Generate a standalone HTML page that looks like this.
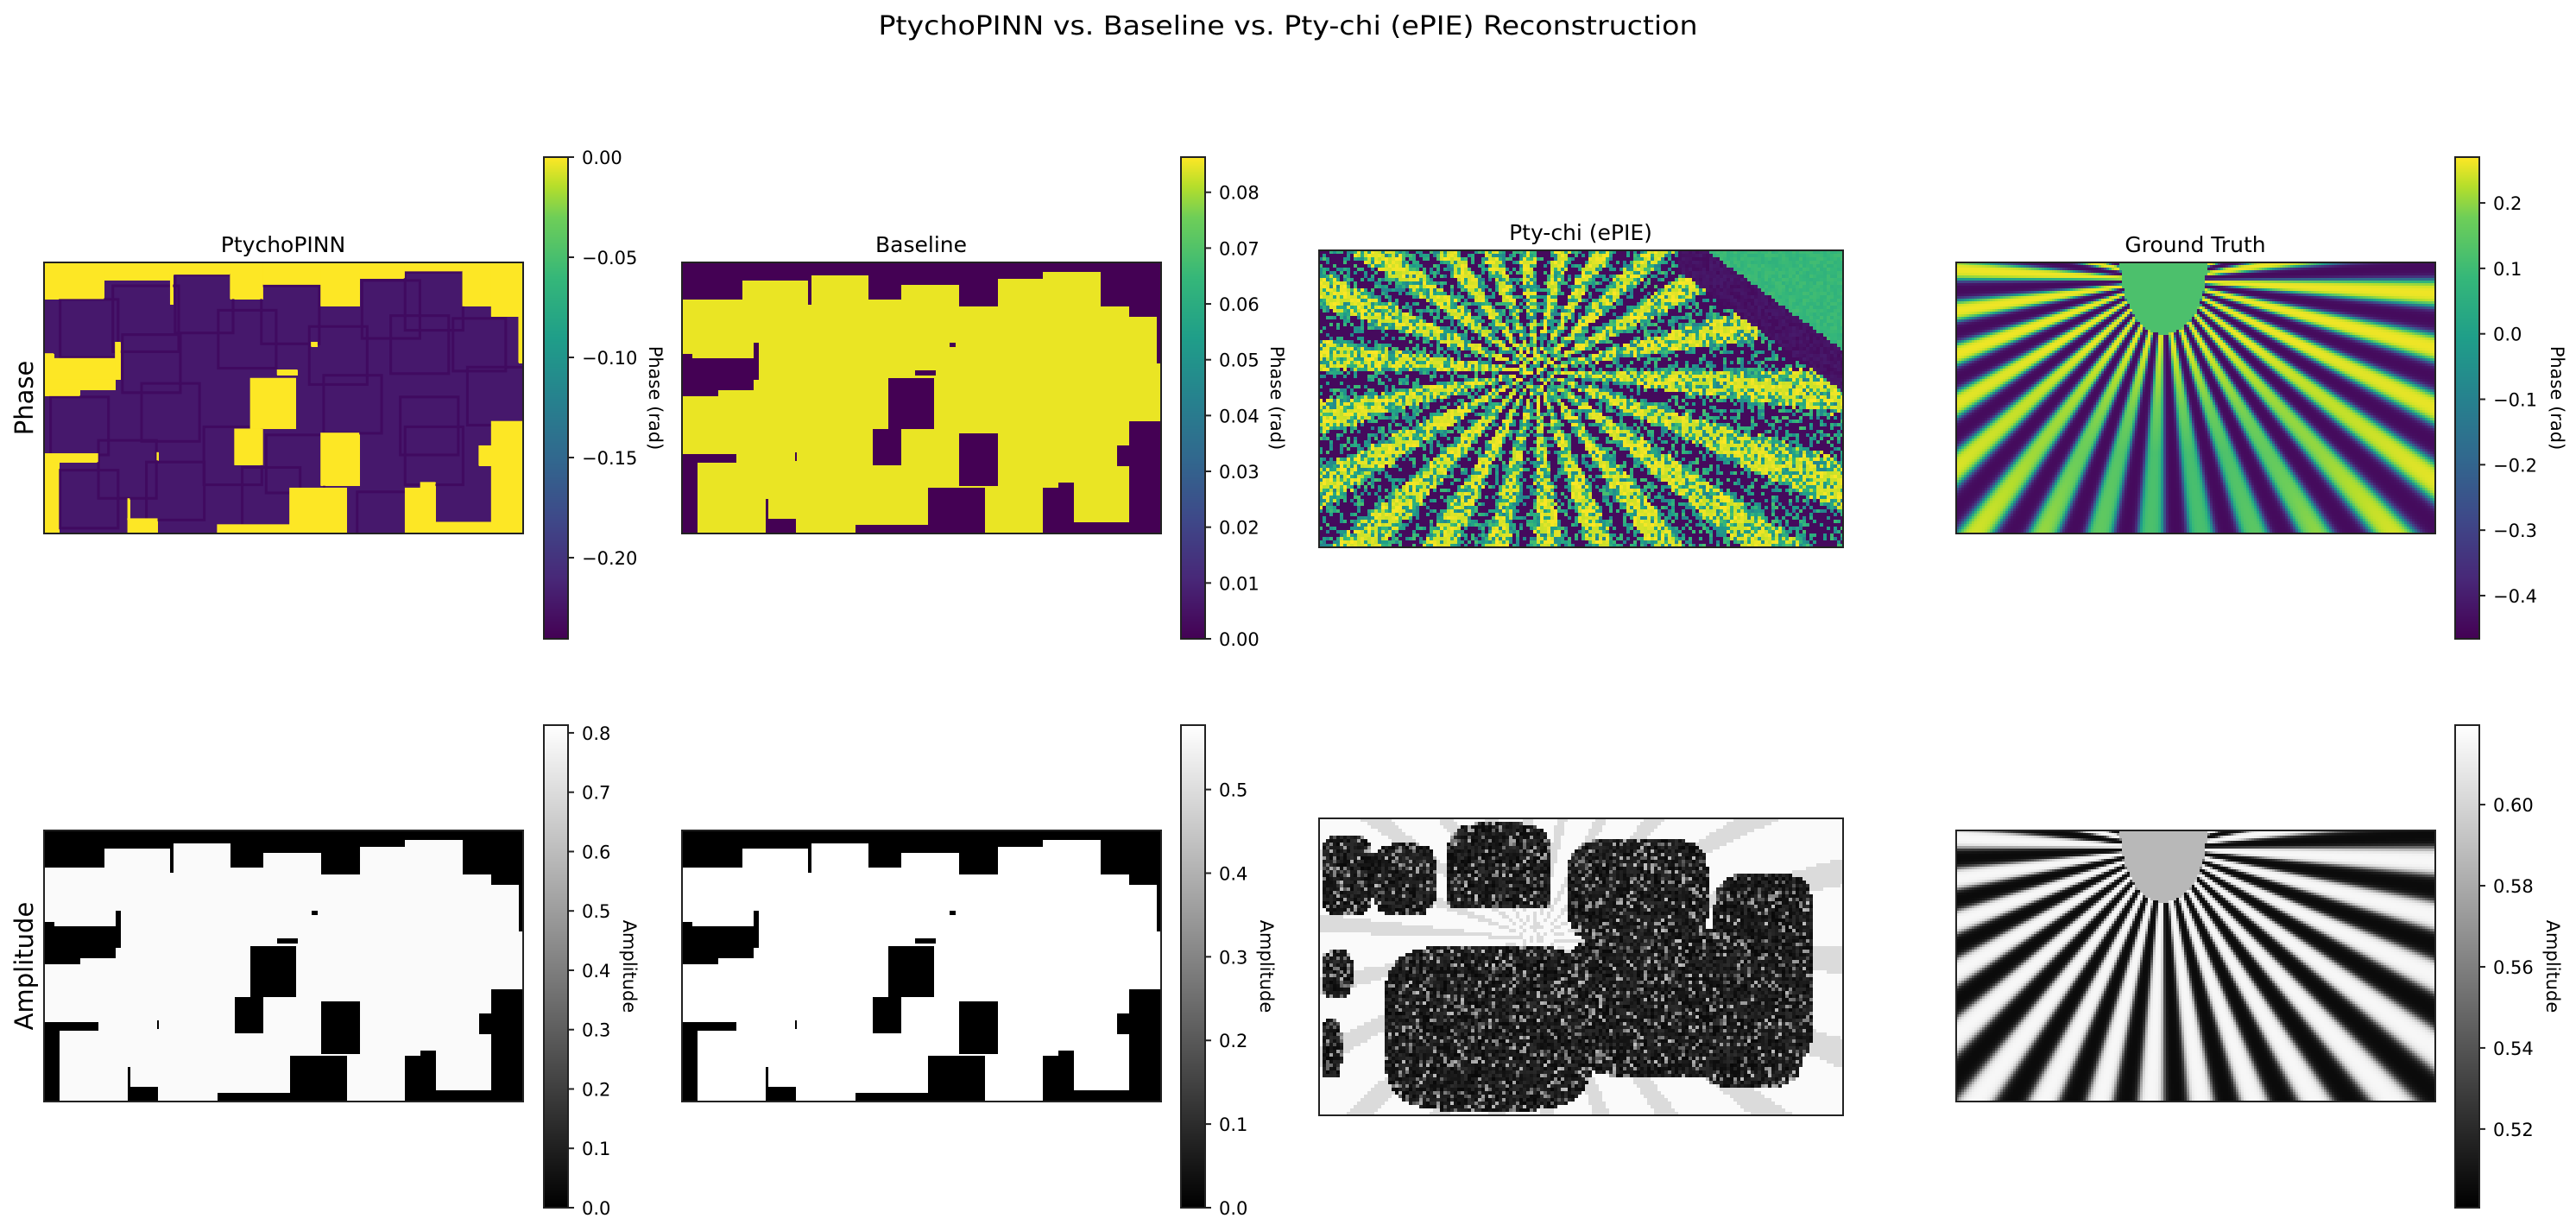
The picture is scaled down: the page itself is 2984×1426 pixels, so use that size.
<!DOCTYPE html>
<html><head><meta charset="utf-8">
<style>
html,body{margin:0;padding:0;background:#fff;}
#root{position:relative;width:2984px;height:1426px;overflow:hidden;background:#fff;}
canvas{position:absolute;image-rendering:pixelated;}
svg{position:absolute;left:0;top:0;}
text{font-family:"DejaVu Sans","Liberation Sans",sans-serif;fill:#000;}
</style></head>
<body>
<div id="root">
<canvas id="c_pinn_ph" style="left:51px;top:304px" width="555" height="314"></canvas>
<canvas id="c_base_ph" style="left:790px;top:304px" width="555" height="314"></canvas>
<canvas id="c_pty_ph" style="left:1528px;top:290px" width="607" height="344"></canvas>
<canvas id="c_gt_ph" style="left:2266px;top:304px" width="555" height="314"></canvas>
<canvas id="c_pinn_am" style="left:51px;top:962px" width="555" height="314"></canvas>
<canvas id="c_base_am" style="left:790px;top:962px" width="555" height="314"></canvas>
<canvas id="c_pty_am" style="left:1528px;top:948px" width="607" height="344"></canvas>
<canvas id="c_gt_am" style="left:2266px;top:962px" width="555" height="314"></canvas>
<canvas id="cb1" style="left:630px;top:182px" width="28" height="558"></canvas>
<canvas id="cb2" style="left:1368px;top:182px" width="28" height="558"></canvas>
<canvas id="cb3" style="left:2844px;top:182px" width="28" height="558"></canvas>
<canvas id="cb4" style="left:630px;top:840px" width="28" height="559"></canvas>
<canvas id="cb5" style="left:1368px;top:840px" width="28" height="559"></canvas>
<canvas id="cb6" style="left:2844px;top:840px" width="28" height="559"></canvas>
<svg id="ov" width="2984" height="1426">
<text x="1492" y="40" font-size="30" text-anchor="middle" textLength="949" lengthAdjust="spacingAndGlyphs">PtychoPINN vs. Baseline vs. Pty-chi (ePIE) Reconstruction</text>
<text x="328" y="292" font-size="25" text-anchor="middle">PtychoPINN</text>
<text x="1067" y="292" font-size="25" text-anchor="middle">Baseline</text>
<text x="1831" y="278" font-size="25" text-anchor="middle">Pty-chi (ePIE)</text>
<text x="2543" y="292" font-size="25" text-anchor="middle">Ground Truth</text>
<text transform="translate(38,461) rotate(-90)" font-size="29" text-anchor="middle">Phase</text>
<text transform="translate(38,1119) rotate(-90)" font-size="29" text-anchor="middle">Amplitude</text>
<g id="frames"></g>
<g id="ticks"></g>
</svg>
</div>
<script>
// ---- data: colorbar ranges and ticks ----
const pinnPhaseRange = [-0.2405, 0.0];
const pinnPhaseTicks = [0.00, -0.05, -0.10, -0.15, -0.20];
const pinnPhaseTickLabels = ["0.00", "\u22120.05", "\u22120.10", "\u22120.15", "\u22120.20"];
const basePhaseRange = [0.0, 0.0863];
const basePhaseTicks = [0.00, 0.01, 0.02, 0.03, 0.04, 0.05, 0.06, 0.07, 0.08];
const basePhaseTickLabels = ["0.00","0.01","0.02","0.03","0.04","0.05","0.06","0.07","0.08"];
const gtPhaseRange = [-0.466, 0.27];
const gtPhaseTicks = [0.2, 0.1, 0.0, -0.1, -0.2, -0.3, -0.4];
const gtPhaseTickLabels = ["0.2","0.1","0.0","\u22120.1","\u22120.2","\u22120.3","\u22120.4"];
const pinnAmpRange = [0.0, 0.813];
const pinnAmpTicks = [0.0,0.1,0.2,0.3,0.4,0.5,0.6,0.7,0.8];
const pinnAmpTickLabels = ["0.0","0.1","0.2","0.3","0.4","0.5","0.6","0.7","0.8"];
const baseAmpRange = [0.0, 0.577];
const baseAmpTicks = [0.0,0.1,0.2,0.3,0.4,0.5];
const baseAmpTickLabels = ["0.0","0.1","0.2","0.3","0.4","0.5"];
const gtAmpRange = [0.5006, 0.6196];
const gtAmpTicks = [0.52,0.54,0.56,0.58,0.60];
const gtAmpTickLabels = ["0.52","0.54","0.56","0.58","0.60"];
// background (uncovered) regions of the scan mask, fractions [x,y,w,h]
const maskHoles = [
 [0,0,0.125,0.135],[0.125,0,0.143,0.064],[0.263,0,0.006,0.153],[0.268,0,0.12,0.045],
 [0.388,0,0.069,0.135],[0.457,0,0.12,0.082],[0.577,0,0.081,0.162],[0.658,0,0.095,0.058],
 [0.753,0,0.12,0.033],[0.873,0,0.06,0.162],[0.933,0,0.067,0.2],[0.99,0.2,0.01,0.17],
 [0,0.353,0.16,0.08],[0,0.43,0.148,0.04],[0,0.47,0.074,0.023],[0.148,0.293,0.012,0.14],
 [0,0.335,0.02,0.02],[0.557,0.293,0.014,0.018],[0.486,0.395,0.043,0.02],[0.43,0.426,0.096,0.188],
 [0.397,0.613,0.06,0.135],[0.577,0.628,0.081,0.196],[0.512,0.831,0.12,0.169],
 [0.361,0.966,0.155,0.034],[0.933,0.585,0.067,0.415],[0.907,0.675,0.035,0.075],
 [0.816,0.957,0.13,0.043],[0.753,0.831,0.064,0.169],[0.785,0.81,0.032,0.025],
 [0,0.704,0.113,0.032],[0,0.736,0.031,0.264],[0.174,0.944,0.063,0.056],[0.174,0.87,0.005,0.08],
 [0.235,0.7,0.004,0.03]
];
// scan patch squares (PtychoPINN phase overlap texture), fractions [x,y,size]
const patches = [[0.03,0.13,0.22],[0.14,0.08,0.25],[0.27,0.04,0.22],[0.45,0.08,0.22],[0.66,0.06,0.22],[0.75,0.03,0.22],
 [0.16,0.26,0.22],[0.36,0.17,0.22],[0.55,0.23,0.22],[0.72,0.19,0.22],[0.85,0.2,0.2],[0.01,0.49,0.22],[0.2,0.44,0.22],
 [0.58,0.41,0.22],[0.74,0.49,0.22],[0.11,0.65,0.22],[0.33,0.6,0.22],[0.46,0.63,0.22],[0.75,0.6,0.22],[0.03,0.76,0.22],
 [0.21,0.73,0.22],[0.41,0.75,0.22],[0.65,0.84,0.22],[0.88,0.38,0.22]];
// star spoke counts (ground truth, pty-chi)
const starSpokes = [32, 22];
// Pty-chi amplitude dark blobs [x,y,w,h]
const ptyBlobs = [[0,0.05,0.1,0.27],[0.1,0.08,0.12,0.24],[0.24,0.01,0.2,0.34],[0.47,0.06,0.27,0.36],[0.75,0.18,0.19,0.38],
 [0.12,0.42,0.4,0.56],[0.46,0.37,0.48,0.5],[0.0,0.44,0.06,0.16],[0.0,0.67,0.04,0.2],[0.22,0.62,0.25,0.36],[0.72,0.55,0.2,0.35]];

const VIR=[[68,1,84],[72,40,120],[62,73,137],[49,104,142],[38,130,142],[31,158,137],[53,183,121],[110,206,88],[181,222,43],[253,231,37]];
const VIRP=[0,0.125,0.25,0.375,0.5,0.625,0.75,0.875,0.94,1];
function viridis(t){t=Math.max(0,Math.min(1,t));for(let i=1;i<VIRP.length;i++){if(t<=VIRP[i]){const f=(t-VIRP[i-1])/(VIRP[i]-VIRP[i-1]);const a=VIR[i-1],b=VIR[i];return [a[0]+(b[0]-a[0])*f,a[1]+(b[1]-a[1])*f,a[2]+(b[2]-a[2])*f];}}return VIR[9];}
function gray(t){t=Math.max(0,Math.min(1,t));const g=t*255;return [g,g,g];}
let seed=12345;function rnd(){seed=(seed*1103515245+12345)&0x7fffffff;return seed/0x7fffffff;}

function inMask(fx,fy){for(const r of maskHoles){if(fx>=r[0]&&fx<r[0]+r[2]&&fy>=r[1]&&fy<r[1]+r[3])return false;}return true;}

function drawMask(id,fg,bg,edge){
 const c=document.getElementById(id),x=c.getContext('2d'),W=c.width,H=c.height;
 const img=x.createImageData(W,H);
 for(let j=0;j<H;j++)for(let i=0;i<W;i++){
  const fx=i/W,fy=j/H;let col=inMask(fx,fy)?fg:bg;
  const k=(j*W+i)*4;img.data[k]=col[0];img.data[k+1]=col[1];img.data[k+2]=col[2];img.data[k+3]=255;}
 x.putImageData(img,0,0);
 if(edge){
  x.strokeStyle=edge;x.lineWidth=3;
  for(const p of patches){const px=p[0]*W,py=p[1]*H,s=p[2]*W*0.55;
   x.strokeRect(px+2,py+2,s,s);}
  x.fillStyle='rgb('+bg.join(',')+')';
  for(const r of maskHoles){x.fillRect(r[0]*W,r[1]*H,r[2]*W,r[3]*H);}
 }
}

function starVal(fx,fy,cx,cy,W,H,N){
 const dx=(fx-cx)*W,dy=(fy-cy)*H;const th=Math.atan2(dy,dx);return Math.sin(N*th);}

function drawGT(id,amp){
 const c=document.getElementById(id),x=c.getContext('2d'),W=c.width,H=c.height,B=3;
 const N=starSpokes[0];
 for(let j=0;j<H;j+=B)for(let i=0;i<W;i+=B){
  const fx=i/W,fy=j/H;
  let s=starVal(fx,fy,0.43,0.06,W,H,N);
  let v=0.5+0.5*Math.tanh(2.2*s);
  const ex=(fx-0.43)/0.09,ey=(fy-0.0)/0.26;
  let col;
  if(ex*ex+ey*ey<1){col=amp?gray(0.72):viridis(0.8);}
  else if(amp){col=gray(0.03+0.95*v);}
  else{
   const d=Math.max(0,Math.min(1,(fy-0.3)/0.4))*Math.exp(-Math.pow((fx-0.47)/0.3,2));
   const hiT=1-0.2*d;
   col=viridis(0.02+v*(hiT-0.02));
  }
  x.fillStyle='rgb('+col.map(Math.round).join(',')+')';x.fillRect(i,j,B,B);}
}

function drawPtyPhase(id){
 const c=document.getElementById(id),x=c.getContext('2d'),W=c.width,H=c.height,B=4;
 const N=starSpokes[1];
 for(let j=0;j<H;j+=B)for(let i=0;i<W;i+=B){
  const fx=i/W,fy=j/H;
  let s=starVal(fx,fy,0.41,0.4,W,H,N);
  let v=0.5+0.5*Math.tanh(2*s);
  let noise=rnd();
  let t;
  const edge=(fx-0.68)*1.3-fy;
  if(fx>0.68&&edge>0.08){t=0.72+0.06*rnd();}
  else if(fx>0.68&&edge>-0.06){t=0.03+0.05*rnd();}
  else{const m=0.5;t=v*(1-m)+noise*m; t=t>0.64?0.95+0.05*rnd():(t<0.34?0.03:0.5+0.3*rnd());}
  const col=viridis(t);
  x.fillStyle='rgb('+col.map(Math.round).join(',')+')';x.fillRect(i,j,B,B);}
}

function drawPtyAmp(id){
 const c=document.getElementById(id),x=c.getContext('2d'),W=c.width,H=c.height,B=4;
 const N=starSpokes[1];
 for(let j=0;j<H;j+=B)for(let i=0;i<W;i+=B){
  const fx=i/W,fy=j/H;let inside=false;
  for(const b of ptyBlobs){const cx=b[0]+b[2]/2,cy=b[1]+b[3]/2;const ux=(fx-cx)/(b[2]/2),uy=(fy-cy)/(b[3]/2);
   if(Math.pow(Math.abs(ux),4)+Math.pow(Math.abs(uy),4)<1){inside=true;break;}}
  if(fx>0.2&&fx<0.46&&fy>0.3&&fy<0.42)inside=false;
  let g;
  if(inside){g=rnd()<0.82?0.03+0.15*rnd():0.3+0.45*rnd();}
  else{const s=starVal(fx,fy,0.41,0.4,W,H,N);g=s>0.6?0.86:0.98;}
  const col=gray(g);
  x.fillStyle='rgb('+col.map(Math.round).join(',')+')';x.fillRect(i,j,B,B);}
}

function drawBar(id,fn){const c=document.getElementById(id),x=c.getContext('2d');
 for(let j=0;j<c.height;j++){const col=fn(1-j/(c.height-1));x.fillStyle='rgb('+col.map(Math.round).join(',')+')';x.fillRect(0,j,c.width,1);}}

const NS='http://www.w3.org/2000/svg';
function frame(name,x0,y0,w,h){const r=document.createElementNS(NS,'rect');
 r.setAttribute('x',x0);r.setAttribute('y',y0);r.setAttribute('width',w);r.setAttribute('height',h);
 r.setAttribute('fill','none');r.setAttribute('stroke','#222');r.setAttribute('stroke-width','2');
 
 
 document.getElementById('frames').appendChild(r);}

function axisTicks(prefix,x0,y0,h,range,ticks,labels,label,labelX){
 const g=document.getElementById('ticks');
 const yOf=v=>y0+h-(v-range[0])/(range[1]-range[0])*h;
 ticks.forEach((v,i)=>{const y=yOf(v);
  const l=document.createElementNS(NS,'line');l.setAttribute('x1',x0+28);l.setAttribute('x2',x0+35);
  l.setAttribute('y1',y);l.setAttribute('y2',y);l.setAttribute('stroke','#222');l.setAttribute('stroke-width','2');
  
  
  g.appendChild(l);
  const t=document.createElementNS(NS,'text');t.setAttribute('x',x0+44);t.setAttribute('y',y+8);t.setAttribute('font-size','21');
  t.textContent=labels[i];
  
  
  g.appendChild(t);});
 const t=document.createElementNS(NS,'text');t.setAttribute('transform','translate('+labelX+','+(y0+h/2)+') rotate(90)');
 t.setAttribute('font-size','21');t.setAttribute('text-anchor','middle');t.textContent=label;
 
 
 g.appendChild(t);}

const YEL=[253,231,37],PUR=[68,1,84];
drawMask('c_pinn_ph',[70,24,108],YEL,'rgb(64,10,96)');
drawMask('c_base_ph',[234,229,36],PUR,null);
drawMask('c_pinn_am',[250,250,250],[0,0,0],null);
drawMask('c_base_am',[255,255,255],[0,0,0],null);
drawGT('c_gt_ph',false);drawGT('c_gt_am',true);
drawPtyPhase('c_pty_ph');drawPtyAmp('c_pty_am');
['cb1','cb2','cb3'].forEach(id=>drawBar(id,viridis));
['cb4','cb5','cb6'].forEach(id=>drawBar(id,gray));

frame('ptychopinn-phase-frame',51,304,555,314);frame('baseline-phase-frame',790,304,555,314);
frame('ptychi-phase-frame',1528,290,607,344);frame('ground-truth-phase-frame',2266,304,555,314);
frame('ptychopinn-amplitude-frame',51,962,555,314);frame('baseline-amplitude-frame',790,962,555,314);
frame('ptychi-amplitude-frame',1528,948,607,344);frame('ground-truth-amplitude-frame',2266,962,555,314);
frame('cb1-frame',630,182,28,558);frame('cb2-frame',1368,182,28,558);frame('cb3-frame',2844,182,28,558);
frame('cb4-frame',630,840,28,559);frame('cb5-frame',1368,840,28,559);frame('cb6-frame',2844,840,28,559);

axisTicks('pinn-phase-cbar',630,182,558,pinnPhaseRange,pinnPhaseTicks,pinnPhaseTickLabels,'Phase (rad)',752);
axisTicks('base-phase-cbar',1368,182,558,basePhaseRange,basePhaseTicks,basePhaseTickLabels,'Phase (rad)',1472);
axisTicks('gt-phase-cbar',2844,182,558,gtPhaseRange,gtPhaseTicks,gtPhaseTickLabels,'Phase (rad)',2955);
axisTicks('pinn-amp-cbar',630,840,559,pinnAmpRange,pinnAmpTicks,pinnAmpTickLabels,'Amplitude',722);
axisTicks('base-amp-cbar',1368,840,559,baseAmpRange,baseAmpTicks,baseAmpTickLabels,'Amplitude',1460);
axisTicks('gt-amp-cbar',2844,840,559,gtAmpRange,gtAmpTicks,gtAmpTickLabels,'Amplitude',2950);
</script>
</body></html>
